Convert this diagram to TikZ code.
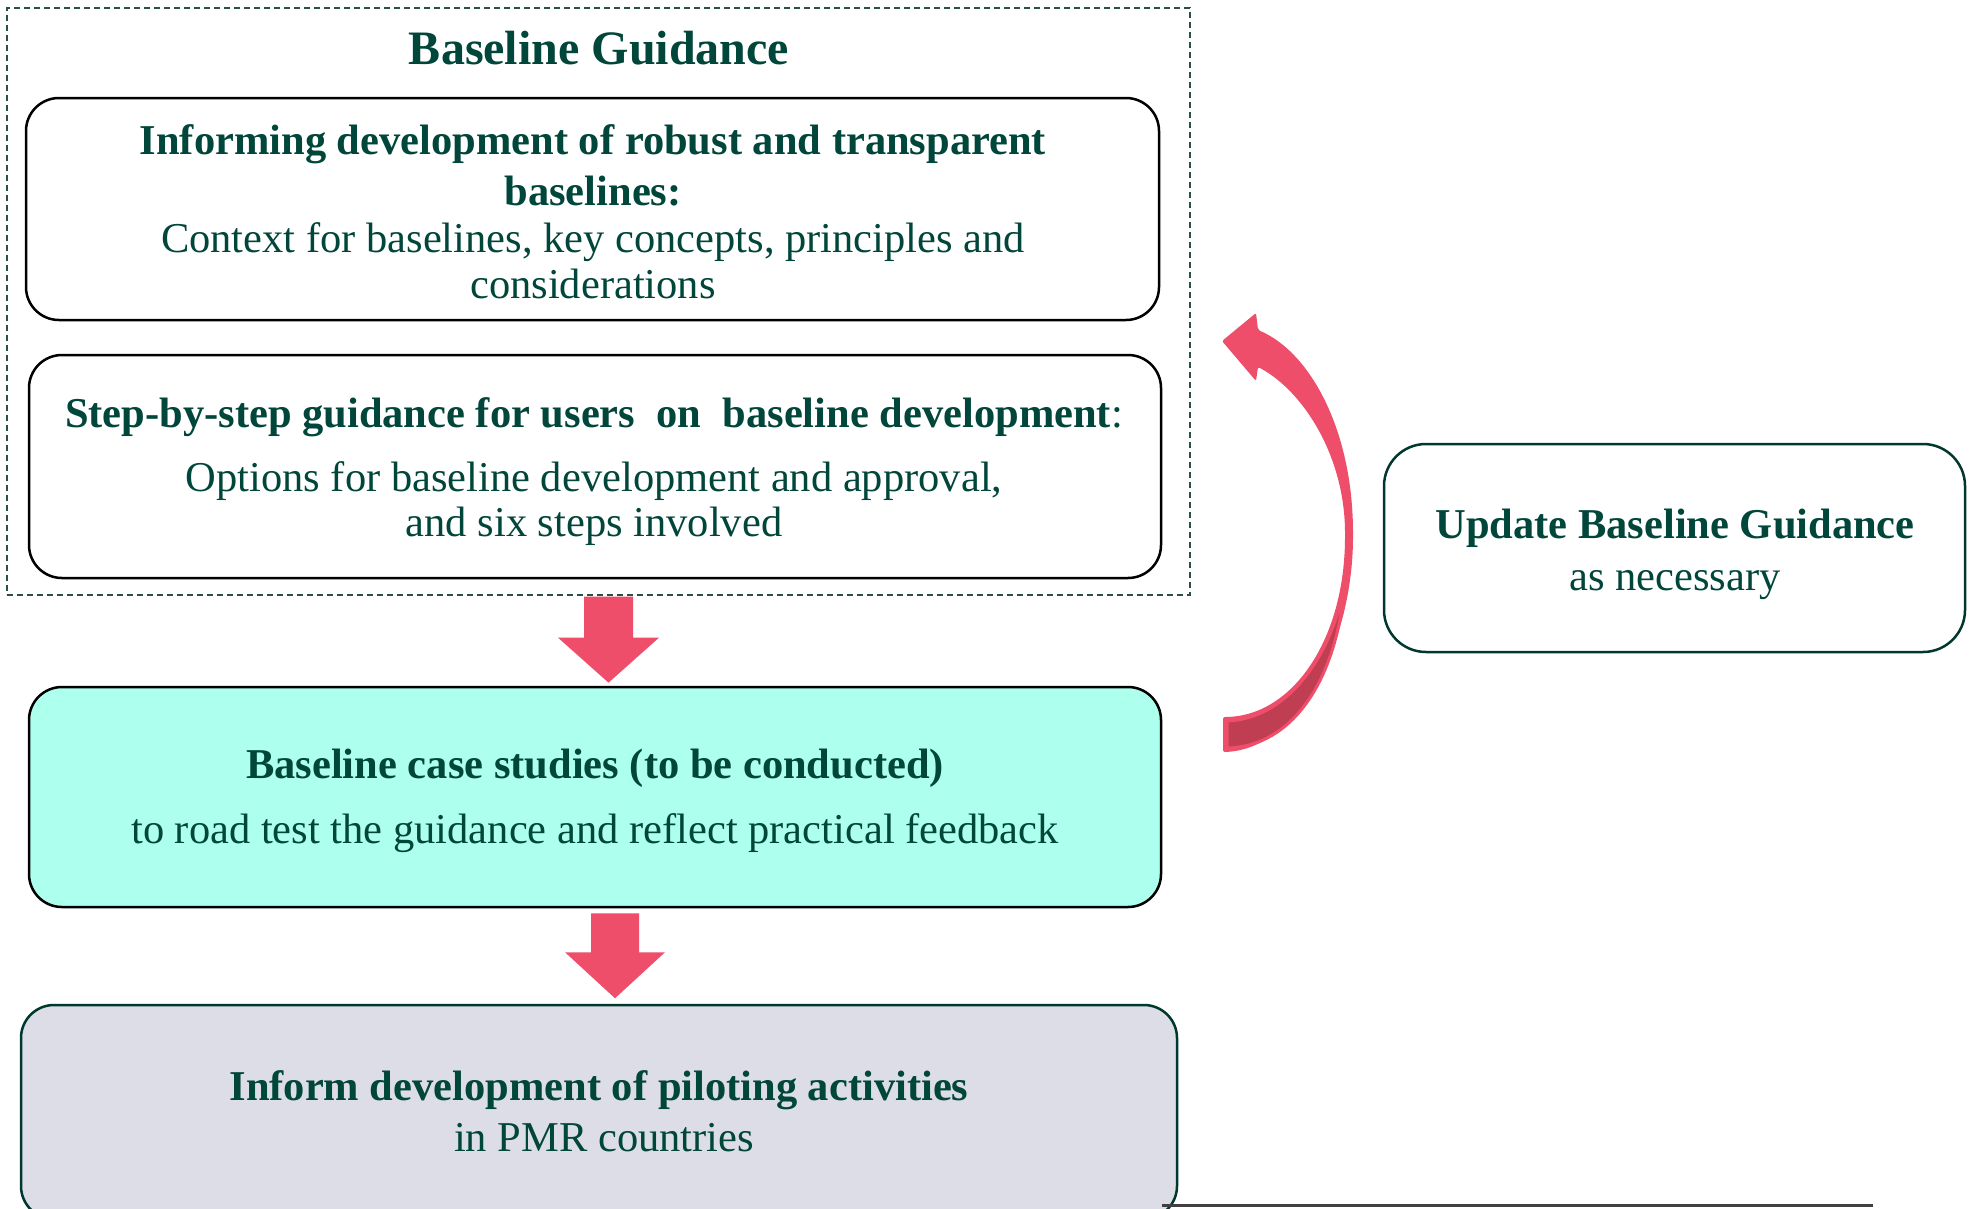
\documentclass[tikz,border=0pt]{standalone}
\usepackage{fontspec}
\setmainfont{Liberation Serif}
\usetikzlibrary{calc}
\definecolor{txt}{RGB}{0,70,58}
\definecolor{pinkarrow}{RGB}{238,78,106}
\definecolor{darkpink}{RGB}{192,62,82}
\definecolor{cyanfill}{RGB}{173,255,238}
\definecolor{grayfill}{RGB}{221,221,232}
\definecolor{darkgreen}{RGB}{0,56,46}
\definecolor{dashcol}{RGB}{40,80,70}
\definecolor{lineGray}{RGB}{64,64,64}
\tikzset{
  boxa/.style={draw=black, line width=2.5pt, rounded corners=33pt, inner sep=0pt},
  boxg/.style={draw=darkgreen, line width=2.5pt, rounded corners=33pt, inner sep=0pt},
  tb/.style={text=txt, font=\fontsize{42.5}{50}\selectfont\bfseries, anchor=base, inner sep=0pt},
  tr/.style={text=txt, font=\fontsize{42.5}{47}\selectfont, anchor=base, inner sep=0pt},
  blockarrow/.style={fill=pinkarrow, draw=none},
}
\begin{document}
\begin{tikzpicture}[x=1pt,y=-1pt]
\useasboundingbox[fill=white] (0,0) rectangle (1969,1208);

% dashed container
\node[draw=dashcol, line width=1.3pt, dash pattern=on 6pt off 4pt, minimum width=1183pt, minimum height=587pt, inner sep=0pt] (dash) at (598.5,301.5) {};
\node[text=txt, font=\fontsize{48}{56}\selectfont\bfseries, anchor=base, inner sep=0pt] (title) at (599,64) {Baseline Guidance};

% box 1
\node[boxa, minimum width=1133pt, minimum height=222pt] (b1) at (592.5,209) {};
\node[tb] (b1l1) at (593,154) {Informing development of robust and transparent};
\node[tb] (b1l2) at (593,205) {baselines:};
\node[tr] (b1l3) at (593,252) {Context for baselines, key concepts, principles and};
\node[tr] (b1l4) at (593,298) {considerations};

% box 2
\node[boxa, minimum width=1132pt, minimum height=223pt] (b2) at (595,466.5) {};
\node[tb] (b2l1) at (594,427) {Step-by-step guidance for users\ \ on\ \ baseline development{\mdseries:}};
\node[tr] (b2l2) at (594,491) {Options for baseline development and approval,};
\node[tr] (b2l3) at (594,536) {and six steps involved};

% box 3
\node[boxa, fill=cyanfill, minimum width=1132pt, minimum height=220pt] (b3) at (595,797) {};
\node[tb] (b3l1) at (595,778) {Baseline case studies (to be conducted)};
\node[tr] (b3l2) at (595,843) {to road test the guidance and reflect practical feedback};

% box 4
\node[boxg, fill=grayfill, minimum width=1156pt, minimum height=214pt] (b4) at (599,1112) {};
\node[tb] (b4l1) at (599,1100) {Inform development of piloting activities};
\node[tr] (b4l2) at (604,1151) {in PMR countries};

% update box
\node[boxg, rounded corners=42pt, minimum width=581pt, minimum height=208pt] (up) at (1674.5,548) {};
\node[tb] (upl1) at (1675,538) {Update Baseline Guidance};
\node[tr] (upl2) at (1675,590) {as necessary};

% block arrows
\fill[blockarrow] ($(dash.south)+(-14.5,1)$) -- ++(49,0) -- ++(0,41) -- ++(26,0) -- ++(-50.5,45) -- ++(-50.5,-45) -- ++(26,0) -- cycle;
\fill[blockarrow] ($(b3.south)+(-4,5)$) -- ++(48,0) -- ++(0,39) -- ++(26,0) -- ++(-50,46) -- ++(-50,-46) -- ++(26,0) -- cycle;

% curved arrow
\coordinate (tailB) at (1223,752);
\coordinate (tailT) at (1223,717);
\coordinate (midO) at (1353,535);
\coordinate (midI) at (1345,535);
\coordinate (baseT) at (1258,330);
\coordinate (baseB) at (1258,367);
\fill[pinkarrow, rounded corners=2pt] (tailB) .. controls (1300,750) and (1353,640) .. (midO)
  .. controls (1353,430) and (1310,352) .. (baseT)
  -- (1256,313) -- (1222,341) -- (1256,381) -- (baseB)
  .. controls (1302,390) and (1345,455) .. (midI)
  .. controls (1345,640) and (1292,717) .. (tailT) -- cycle;
\filldraw[fill=darkpink, draw=pinkarrow, line width=3pt, line join=round]
  (1227,721) .. controls (1290,719) and (1335,650) .. (1345,580)
  .. controls (1338,680) and (1292,747) .. (1227,748) -- cycle;

% bottom rule
\draw[lineGray, line width=3pt] (b4.south east |- 0,1205) ++(-16,0) coordinate (ruleA) -- (1873,1205) coordinate (ruleB);
\end{tikzpicture}
\end{document}
